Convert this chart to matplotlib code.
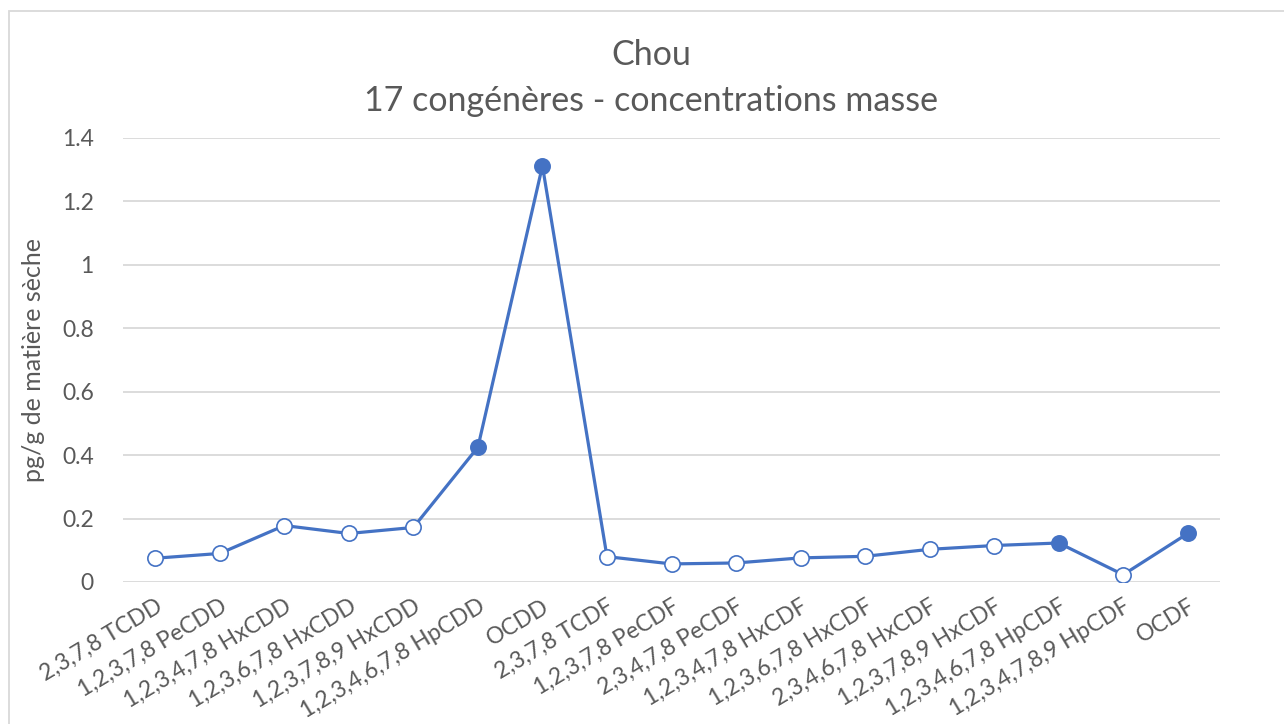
import matplotlib
matplotlib.use("Agg")
import matplotlib.pyplot as plt
from matplotlib.patches import Rectangle

plt.rcParams['font.family'] = ['Lato', 'DejaVu Sans']

categories = ["2,3,7,8 TCDD", "1,2,3,7,8 PeCDD", "1,2,3,4,7,8 HxCDD", "1,2,3,6,7,8 HxCDD",
              "1,2,3,7,8,9 HxCDD", "1,2,3,4,6,7,8 HpCDD", "OCDD", "2,3,7,8 TCDF",
              "1,2,3,7,8 PeCDF", "2,3,4,7,8 PeCDF", "1,2,3,4,7,8 HxCDF", "1,2,3,6,7,8 HxCDF",
              "2,3,4,6,7,8 HxCDF", "1,2,3,7,8,9 HxCDF", "1,2,3,4,6,7,8 HpCDF",
              "1,2,3,4,7,8,9 HpCDF", "OCDF"]
values = [0.075, 0.090, 0.178, 0.153, 0.172, 0.425, 1.312, 0.080, 0.057, 0.060,
          0.076, 0.081, 0.103, 0.115, 0.123, 0.023, 0.153]
filled = [False, False, False, False, False, True, True, False, False, False,
          False, False, False, False, True, False, True]
y_ticks = [0, 0.2, 0.4, 0.6, 0.8, 1.0, 1.2, 1.4]
y_tick_labels = ["0", "0.2", "0.4", "0.6", "0.8", "1", "1.2", "1.4"]

color = "#4472C4"
text_color = "#595959"
grid_color = "#D9D9D9"

fig = plt.figure(figsize=(12.84, 7.24), dpi=100)
fig.patches.append(Rectangle((9/1284, -0.1), 1.2, 1 - 11/724 + 0.1, transform=fig.transFigure,
                             fill=False, edgecolor=grid_color, linewidth=1.3))
ax = fig.add_axes([123/1284, 1 - 582/724, (1220 - 123)/1284, (582 - 138)/724])

x = list(range(len(categories)))
ax.plot(x, values, color=color, linewidth=2.3, zorder=3)
xo = [i for i in x if not filled[i]]
xf = [i for i in x if filled[i]]
ax.plot(xo, [values[i] for i in xo], linestyle='none', marker='o', markersize=11,
        markerfacecolor='white', markeredgecolor=color, markeredgewidth=1.2, zorder=4)
ax.plot(xf, [values[i] for i in xf], linestyle='none', marker='o', markersize=11,
        markerfacecolor=color, markeredgecolor=color, markeredgewidth=1.2, zorder=4)

ax.set_xlim(-0.5, len(categories) - 0.5)
ax.set_ylim(0, 1.4)
ax.set_yticks(y_ticks)
ax.set_yticklabels(y_tick_labels)
ax.set_xticks(x)
ax.set_xticklabels(categories, rotation=31, ha='right', rotation_mode='anchor')
for s in ax.spines.values():
    s.set_visible(False)
ax.tick_params(axis='both', length=0, colors=text_color, labelsize=16.5)
ax.tick_params(axis='y', pad=21)
ax.tick_params(axis='x', pad=10)
ax.yaxis.grid(True, color=grid_color, linewidth=1.3)
ax.set_axisbelow(True)
ax.set_ylabel("pg/g de matière sèche", fontsize=18, color=text_color, labelpad=12)

fig.text(651/1284, 1 - 55/724, "Chou", ha='center', va='center', fontsize=24.5, color=text_color)
fig.text(651/1284, 1 - 101/724, "17 congénères - concentrations masse", ha='center', va='center',
         fontsize=24.5, color=text_color)

fig.savefig("out.png", dpi=100)
